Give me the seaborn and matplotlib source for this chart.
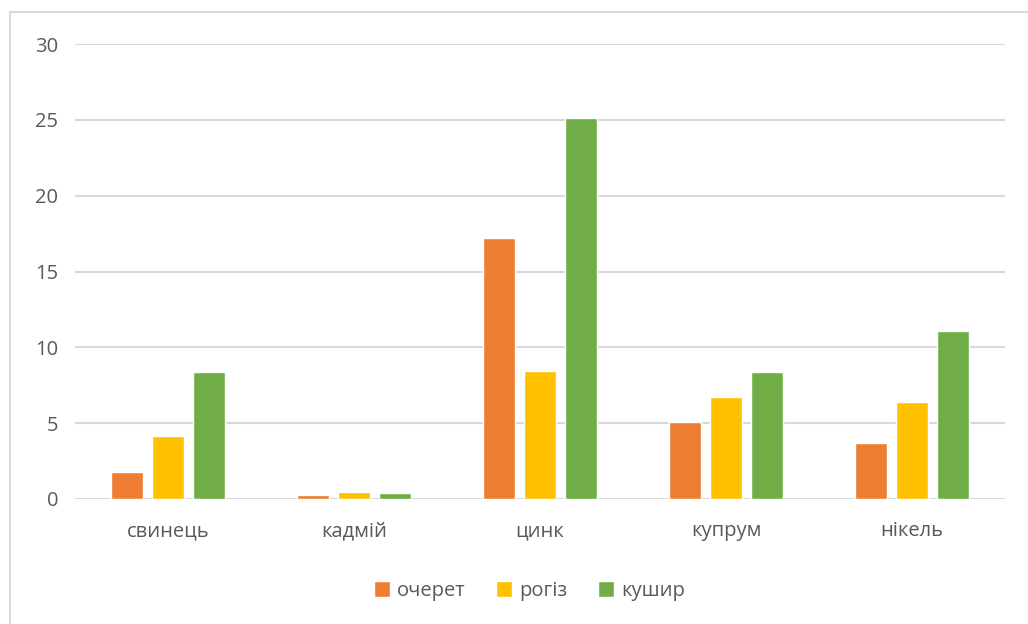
import matplotlib
matplotlib.use("Agg")
import matplotlib.pyplot as plt
from matplotlib.patches import Rectangle
import seaborn as sns
import pandas as pd

metals = ["свинець", "кадмій", "цинк", "купрум", "нікель"]
series = ["очерет", "рогіз", "кушир"]
ocheret = [1.8, 0.25, 17.2, 5.05, 3.7]
rogiz = [4.15, 0.45, 8.45, 6.7, 6.4]
kushyr = [8.35, 0.38, 25.1, 8.35, 11.05]
colors = ["#ED7D31", "#FFC000", "#70AD47"]

rows = []
for name, vals in zip(series, [ocheret, rogiz, kushyr]):
    for m, v in zip(metals, vals):
        rows.append({"metal": m, "plant": name, "value": v})
df = pd.DataFrame(rows)

sns.set_style("white")
plt.rcParams['font.family'] = ['Open Sans', 'DejaVu Sans']

fig = plt.figure(figsize=(10.28, 6.24), dpi=100)
ax = fig.add_axes([75/1028, 1 - 499/624, 930/1028, 455/624])

sns.barplot(data=df, x="metal", y="value", hue="plant", order=metals,
            hue_order=series, palette=colors, width=0.66, gap=0.2,
            saturation=1, ax=ax, legend=True)

ax.set_ylim(0, 30)
ax.set_yticks(range(0, 31, 5))
ax.yaxis.grid(True, color="#d9d9d9", linewidth=1.5)
ax.set_axisbelow(True)
for s in ax.spines.values():
    s.set_visible(False)
ax.set_xlabel("")
ax.set_ylabel("")
ax.tick_params(axis="both", length=0, colors="#595959", labelsize=14.5)
ax.tick_params(axis="x", pad=16)
ax.tick_params(axis="y", pad=12)

handles, labels = ax.get_legend_handles_labels()
ax.get_legend().remove()
fig.legend(handles, labels, loc="center", bbox_to_anchor=(0.515, 1 - 591/624),
           ncol=3, frameon=False, handlelength=0.8, handleheight=0.8,
           handletextpad=0.35, columnspacing=1.5, fontsize=14.5,
           labelcolor="#595959")

fig.add_artist(Rectangle((10/1028, -0.01), 1.0, 1 - 12/624 + 0.01,
                         transform=fig.transFigure, fill=False,
                         edgecolor="#d9d9d9", linewidth=1.5))

fig.savefig("out.png", dpi=100)
